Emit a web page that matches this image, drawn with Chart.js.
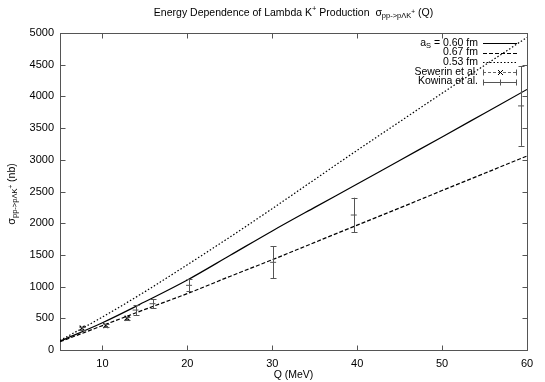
<!DOCTYPE html>
<html><head><meta charset="utf-8">
<script src="https://cdn.jsdelivr.net/npm/chart.js@4.4.0/dist/chart.umd.min.js"></script>
<style>html,body{margin:0;padding:0;background:#fff}#wrap{width:545px;height:382px}</style>
</head><body><div id="wrap"><canvas id="c" width="545" height="382"></canvas></div>
<script>
// ---- data ----
const curveQ   = [5,10,15,20,25,30,35,40,45,50,55,60];
const sigma060 = [140,430,760,1104,1490,1878,2250,2618,2990,3360,3735,4110];
const sigma067 = [130,385,640,890,1160,1424,1697,1970,2240,2515,2787,3060];
const sigma053 = [150,520,920,1345,1780,2230,2690,3150,3600,4050,4490,4930];
const sewerinQ     = [7.6,10.4,12.9];
const sewerinSigma = [345,385,500];
const sewerinErr   = [25,20,20];
const kowinaQ     = [13.9,15.9,20.2,30.1,39.6,59.3];
const kowinaSigma = [630,730,1020,1383,2129,3850];
const kowinaErr   = [80,70,95,250,273,630];
const xTicks = [10,20,30,40,50,60];
const yTicks = [0,500,1000,1500,2000,2500,3000,3500,4000,4500,5000];

const FONT = '"Liberation Sans", Arial, Helvetica, sans-serif';
const pts = (xs, ys) => xs.map((v,i)=>({x:v, y:ys[i]}));

function drawRich(ctx, parts, x, y, align){
  let w = 0;
  parts.forEach(p=>{ ctx.font = p[1]+'px '+FONT; w += ctx.measureText(p[0]).width; });
  let cx = align==='right' ? x - w : (align==='center' ? x - w/2 : x);
  ctx.textAlign='left'; ctx.textBaseline='middle';
  parts.forEach(p=>{ ctx.font = p[1]+'px '+FONT; ctx.fillText(p[0], cx, y + (p[2]||0)); cx += ctx.measureText(p[0]).width; });
}

const deco = {
  id:'deco',
  beforeDatasetsDraw(chart){
    const {ctx, chartArea:a, scales:{x,y}} = chart;
    ctx.save();
    ctx.strokeStyle='#555'; ctx.lineWidth=1;
    const L=Math.round(a.left)+0.5, R=Math.round(a.right)+0.5, T=Math.round(a.top)+0.5, B=Math.round(a.bottom)+0.5;
    ctx.strokeRect(L, T, R-L, B-T);
    ctx.beginPath();
    const tl=5;
    xTicks.forEach(v=>{ const px=Math.round(x.getPixelForValue(v))+0.5; if(v<60){ctx.moveTo(px,B);ctx.lineTo(px,B-tl);ctx.moveTo(px,T);ctx.lineTo(px,T+tl);} });
    yTicks.forEach(v=>{ const py=Math.round(y.getPixelForValue(v))+0.5; if(v>0&&v<5000){ctx.moveTo(L,py);ctx.lineTo(L+tl,py);ctx.moveTo(R,py);ctx.lineTo(R-tl,py);} });
    ctx.stroke();
    ctx.restore();
  },
  afterDatasetsDraw(chart){
    const {ctx, scales:{x,y}} = chart;
    ctx.save();
    ctx.strokeStyle='#555'; ctx.lineWidth=1;
    const bar=(q,s,e,cap)=>{
      const px=Math.round(x.getPixelForValue(q))+0.5;
      const y1=y.getPixelForValue(s+e), y2=y.getPixelForValue(s-e);
      ctx.beginPath();
      ctx.moveTo(px,y1); ctx.lineTo(px,y2);
      ctx.moveTo(px-cap,Math.round(y1)+0.5); ctx.lineTo(px+cap,Math.round(y1)+0.5);
      ctx.moveTo(px-cap,Math.round(y2)+0.5); ctx.lineTo(px+cap,Math.round(y2)+0.5);
      ctx.stroke();
    };
    kowinaQ.forEach((q,i)=>bar(q,kowinaSigma[i],kowinaErr[i],3));
    sewerinQ.forEach((q,i)=>bar(q,sewerinSigma[i],sewerinErr[i],3));
    ctx.restore();
  },
  afterDraw(chart){
    const {ctx, chartArea:a} = chart;
    ctx.save();
    ctx.fillStyle='#000';
    drawRich(ctx, [['Energy Dependence of Lambda K',10.5,0],['+',7.5,-4],[' Production  \u03c3',10.5,0],['pp->p\u039bK',7.5,3],['+',6.5,-1],[' (Q)',10.5,0]], (a.left+a.right)/2, 13, 'center');
    drawRich(ctx, [['Q (MeV)',10.5,0]], (a.left+a.right)/2, 375, 'center');
    ctx.save();
    ctx.translate(12, 194); ctx.rotate(-Math.PI/2);
    drawRich(ctx, [['\u03c3',11,0],['pp->p\u039bK',7.5,3],['+',6.5,-1],[' (nb)',10.5,0]], 0, 0, 'center');
    ctx.restore();
    const tx=478, lx1=483, lx2=517;
    const rows=[43,52.5,62,72,81.5];
    drawRich(ctx, [['a',10.5,0],['S',7.5,3],[' = 0.60 fm',10.5,0]], tx, rows[0], 'right');
    drawRich(ctx, [['0.67 fm',10.5,0]], tx, rows[1], 'right');
    drawRich(ctx, [['0.53 fm',10.5,0]], tx, rows[2], 'right');
    drawRich(ctx, [['Sewerin et al.',10.5,0]], tx, rows[3], 'right');
    drawRich(ctx, [['Kowina et al.',10.5,0]], tx, rows[4], 'right');
    const seg=(yy,dash,col,w)=>{ctx.beginPath();ctx.setLineDash(dash);ctx.strokeStyle=col;ctx.lineWidth=w;ctx.moveTo(lx1,yy);ctx.lineTo(lx2,yy);ctx.stroke();ctx.setLineDash([]);};
    seg(Math.round(rows[0])+0.5,[],'#000',1.2);
    seg(Math.round(rows[1])+0.5,[4,2],'#000',1.2);
    seg(Math.round(rows[2])+0.5,[1.5,2],'#000',1.2);
    const ry3=Math.round(rows[3])+0.5, ry4=Math.round(rows[4])+0.5;
    seg(ry3,[3,2],'#666',1);
    seg(ry4,[],'#555',1);
    ctx.strokeStyle='#555'; ctx.lineWidth=1;
    ctx.beginPath();
    [ry3,ry4].forEach(r=>{ctx.moveTo(lx1+0.5,r-3);ctx.lineTo(lx1+0.5,r+3);ctx.moveTo(lx2-0.5,r-3);ctx.lineTo(lx2-0.5,r+3);});
    const mx=Math.round((lx1+lx2)/2)+0.5;
    ctx.moveTo(mx,ry4-3);ctx.lineTo(mx,ry4+3);
    ctx.stroke();
    ctx.strokeStyle='#000';
    ctx.beginPath();
    ctx.moveTo(mx-2.5,ry3-2.5);ctx.lineTo(mx+2.5,ry3+2.5);ctx.moveTo(mx-2.5,ry3+2.5);ctx.lineTo(mx+2.5,ry3-2.5);
    ctx.stroke();
    ctx.restore();
  }
};

const lineDS=(label,data,dash)=>({label, data:pts(curveQ,data), showLine:true, pointRadius:0, borderColor:'#000', borderWidth:1.2, borderDash:dash, cubicInterpolationMode:'monotone', fill:false});

new Chart(document.getElementById('c'), {
  type:'scatter',
  data:{datasets:[
    lineDS('a_S = 0.60 fm', sigma060, []),
    lineDS('0.67 fm', sigma067, [4,2]),
    lineDS('0.53 fm', sigma053, [1.5,2]),
    {label:'Sewerin et al.', data:pts(sewerinQ,sewerinSigma), showLine:false, pointStyle:'crossRot', pointRadius:3.5, borderColor:'#000', borderWidth:1.3, backgroundColor:'#000'},
    {label:'Kowina et al.', data:pts(kowinaQ,kowinaSigma), showLine:false, pointStyle:'line', pointRadius:3, borderColor:'#555', borderWidth:1, backgroundColor:'#555'}
  ]},
  options:{
    responsive:false, animation:false, devicePixelRatio:1,
    layout:{padding:{top:33,right:18,left:0,bottom:0}},
    plugins:{legend:{display:false}, tooltip:{enabled:false}, title:{display:false}},
    scales:{
      x:{type:'linear', min:5, max:60,
        afterBuildTicks:s=>{s.ticks=xTicks.map(v=>({value:v}));},
        afterFit:s=>{s.height=32;},
        grid:{display:false, drawTicks:false, tickLength:0}, border:{display:false},
        ticks:{font:{family:FONT,size:11}, color:'#000', padding:7, maxRotation:0, callback:v=>String(v)}},
      y:{type:'linear', min:0, max:5000,
        afterBuildTicks:s=>{s.ticks=yTicks.map(v=>({value:v}));},
        afterFit:s=>{s.width=60;},
        grid:{display:false, drawTicks:false, tickLength:0}, border:{display:false},
        ticks:{font:{family:FONT,size:11}, color:'#000', padding:6, callback:v=>String(v)}}
    }
  },
  plugins:[deco]
});
</script></body></html>
